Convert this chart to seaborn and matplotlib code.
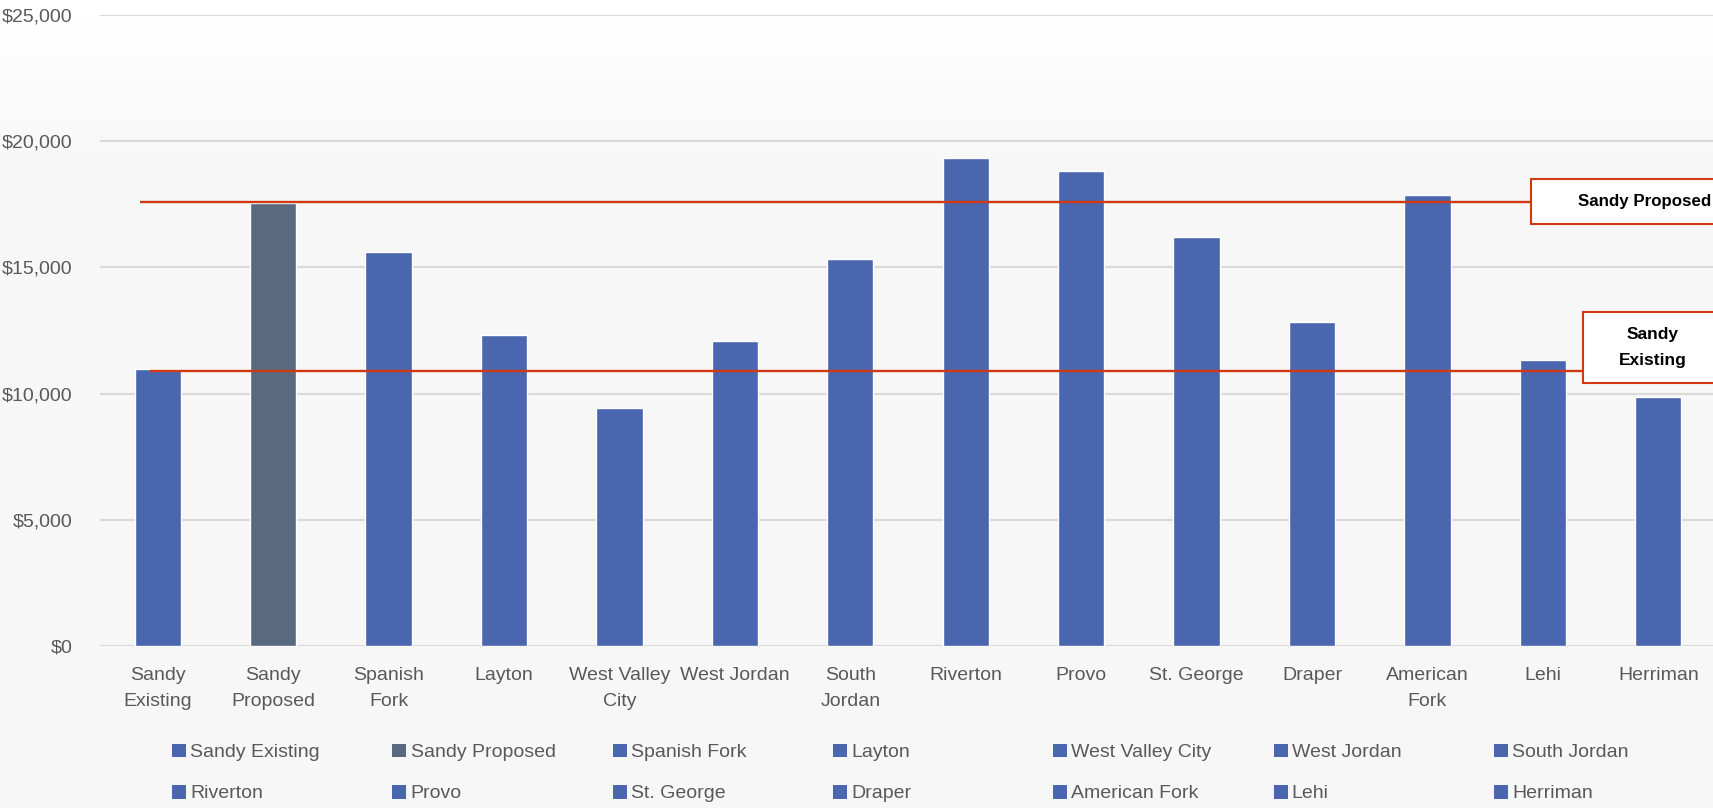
import numpy as np
import pandas as pd
import seaborn as sns
import matplotlib
matplotlib.use("Agg")
import matplotlib.pyplot as plt
from matplotlib.patches import Patch, Rectangle
from matplotlib.ticker import FuncFormatter

# ---------------- data ----------------
cities = ["Sandy Existing", "Sandy Proposed", "Spanish Fork", "Layton", "West Valley City",
          "West Jordan", "South Jordan", "Riverton", "Provo", "St. George", "Draper",
          "American Fork", "Lehi", "Herriman"]
tick_labels = ["Sandy\nExisting", "Sandy\nProposed", "Spanish\nFork", "Layton", "West Valley\nCity",
               "West Jordan", "South\nJordan", "Riverton", "Provo", "St. George", "Draper",
               "American\nFork", "Lehi", "Herriman"]
values = [10960, 17560, 15620, 12310, 9430, 12070, 15350, 19330, 18810, 16220, 12850, 17860, 11330, 9860]
ref_existing = 10900
ref_proposed = 17600
y_ticks = [0, 5000, 10000, 15000, 20000, 25000]

BLUE = "#4a66ae"
SLATE = "#596980"
RED = "#d03a12"
TXT = "#595959"
FS = 14

# ---------------- style ----------------
sns.set_theme(style="white")
plt.rcParams["font.family"] = ["Liberation Sans", "DejaVu Sans"]

W, H = 1713, 808
fig = plt.figure(figsize=(W / 100, H / 100), dpi=100)
fig.patch.set_facecolor("#f8f8f8")

# subtle background gradient (white at top fading to light grey)
bg = fig.add_axes([0, 0, 1, 1], zorder=-10)
grad = np.concatenate([np.linspace(1.0, 0.968, 160), np.full(648, 0.968)])[:, None]
bg.imshow(np.repeat(grad, 2, axis=1), cmap="gray", vmin=0, vmax=1, aspect="auto", extent=[0, 1, 0, 1])
bg.set_axis_off()

ax = fig.add_axes([100 / W, 162 / H, 1616 / W, 631 / H])
ax.set_facecolor("none")

df = pd.DataFrame({"city": cities, "value": values})
palette = {c: BLUE for c in cities}
palette["Sandy Proposed"] = SLATE

sns.barplot(data=df, x="city", y="value", hue="city", order=cities, hue_order=cities,
            palette=palette, saturation=1, width=0.4, legend=False, ax=ax, zorder=2)

ax.set_xlim(-0.5, len(cities) - 0.5)
ax.set_ylim(0, 25000)
ax.set_yticks(y_ticks)
ax.yaxis.set_major_formatter(FuncFormatter(lambda v, p: f"${v:,.0f}"))
ax.set_xticks(range(len(cities)))
ax.set_xticklabels(tick_labels, linespacing=1.72)
ax.set_xlabel("")
ax.set_ylabel("")
ax.grid(axis="y", color="#d9d9d9", linewidth=1.5, zorder=0)
ax.grid(axis="x", visible=False)
ax.set_axisbelow(True)
for s in ax.spines.values():
    s.set_visible(False)
ax.tick_params(axis="both", length=0, labelsize=FS, colors=TXT)
ax.tick_params(axis="x", pad=15)
ax.tick_params(axis="y", pad=20)

# ---------------- reference lines with callout boxes ----------------
ax.hlines(ref_proposed, -0.15, 11.9, color=RED, linewidth=1.7, zorder=4)
ax.hlines(ref_existing, -0.07, 12.35, color=RED, linewidth=1.7, zorder=4)

ax.add_patch(Rectangle((11.9, ref_proposed - 880), 2.5, 1780, facecolor="white",
                       edgecolor=RED, linewidth=1.5, zorder=5, clip_on=False))
ax.text(12.88, ref_proposed, "Sandy Proposed", ha="center", va="center", fontsize=12.2,
        fontweight="bold", color="black", zorder=6, clip_on=False)

ax.add_patch(Rectangle((12.35, ref_existing - 480), 2.5, 2810, facecolor="white",
                       edgecolor=RED, linewidth=1.5, zorder=5, clip_on=False))
ax.text(12.95, ref_existing + 930, "Sandy\nExisting", ha="center", va="center", fontsize=12.5,
        fontweight="bold", color="black", zorder=6, clip_on=False, linespacing=1.9)

# ---------------- legend: 7 columns x 2 rows, row-major ----------------
handles = [Patch(facecolor=palette[c], edgecolor="none") for c in cities]
ncol = 7
col_x = [172 + 220.3 * i for i in range(ncol)]
for i in range(ncol):
    idx = [i, i + ncol]
    fig.legend([handles[j] for j in idx], [cities[j] for j in idx],
               loc="center left", bbox_to_anchor=(col_x[i] / W, (H - 773) / H),
               frameon=False, fontsize=FS, labelcolor=TXT, handlelength=0.72,
               handleheight=0.72, handletextpad=0.22, labelspacing=1.2,
               borderpad=0, borderaxespad=0)

fig.savefig("out.png", dpi=100, facecolor=fig.get_facecolor())
